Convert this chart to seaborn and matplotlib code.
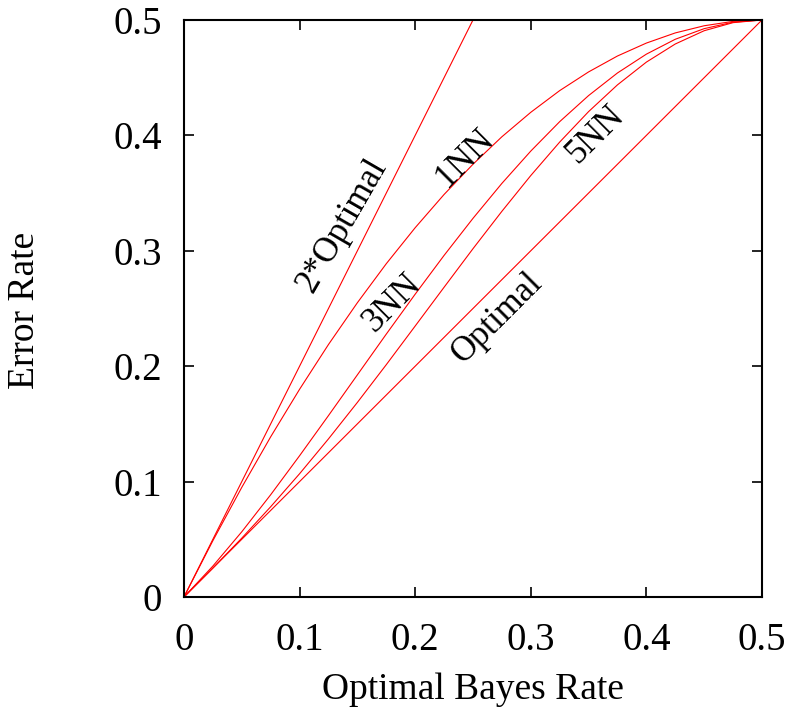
import numpy as np
import pandas as pd
import matplotlib
matplotlib.use('Agg')
import matplotlib.pyplot as plt
import seaborn as sns

# optimal Bayes rate (x axis)
bayes = [0.0, 0.025, 0.05, 0.075, 0.1, 0.125, 0.15, 0.175, 0.2, 0.225, 0.25,
         0.275, 0.3, 0.325, 0.35, 0.375, 0.4, 0.425, 0.45, 0.475, 0.5]

# error rates
err_optimal = [0.0, 0.025, 0.05, 0.075, 0.1, 0.125, 0.15, 0.175, 0.2, 0.225, 0.25,
               0.275, 0.3, 0.325, 0.35, 0.375, 0.4, 0.425, 0.45, 0.475, 0.5]
err_2opt_x = [0.0, 0.25]
err_2opt = [0.0, 0.5]
err_1nn = [0.0, 0.0488, 0.095, 0.1388, 0.18, 0.2188, 0.255, 0.2888, 0.32, 0.3488, 0.375,
           0.3988, 0.42, 0.4388, 0.455, 0.4688, 0.48, 0.4888, 0.495, 0.4988, 0.5]
err_3nn = [0.0, 0.0268, 0.0565, 0.0886, 0.1224, 0.1572, 0.1925, 0.2278, 0.2624, 0.296, 0.3281,
           0.3584, 0.3864, 0.4119, 0.4345, 0.4541, 0.4704, 0.4833, 0.4925, 0.4981, 0.5]
err_5nn = [0.0, 0.0251, 0.051, 0.0782, 0.1068, 0.137, 0.1686, 0.2013, 0.2348, 0.2684, 0.3018,
           0.3342, 0.3652, 0.3942, 0.4206, 0.4438, 0.4635, 0.4792, 0.4907, 0.4977, 0.5]

# curve labels: text, x, y, rotation
labels = ['2*Optimal', '1NN', '3NN', '5NN', 'Optimal']
label_x = [0.137, 0.243, 0.180, 0.356, 0.271]
label_y = [0.322, 0.380, 0.255, 0.401, 0.242]
label_rot = [60, 45, 45, 45, 45]

sns.set_theme(style="white")
plt.rcParams['font.family'] = ['Liberation Serif', 'DejaVu Serif']

fig = plt.figure(figsize=(7.91, 7.14), dpi=100)
ax = fig.add_axes([0.2326, 0.1639, 0.7307, 0.8081])

red = '#ff0000'
sns.lineplot(x=bayes, y=err_optimal, color=red, lw=0.8, ax=ax)
sns.lineplot(x=err_2opt_x, y=err_2opt, color=red, lw=0.8, ax=ax)
sns.lineplot(x=bayes, y=err_1nn, color=red, lw=0.8, ax=ax)
sns.lineplot(x=bayes, y=err_3nn, color=red, lw=0.8, ax=ax)
sns.lineplot(x=bayes, y=err_5nn, color=red, lw=0.8, ax=ax)

for t, x, y, r in zip(labels, label_x, label_y, label_rot):
    ax.text(x, y, t, rotation=r, rotation_mode='anchor', ha='center', va='center',
            fontsize=25, color='black')

ax.set_xlim(0, 0.5)
ax.set_ylim(0, 0.5)
ticks = [0, 0.1, 0.2, 0.3, 0.4, 0.5]
tick_labels = ['0', '0.1', '0.2', '0.3', '0.4', '0.5']
ax.set_xticks(ticks)
ax.set_xticklabels(tick_labels)
ax.set_yticks(ticks)
ax.set_yticklabels(tick_labels)
ax.tick_params(direction='in', length=7, width=1.2, color='black', labelsize=28,
               top=True, right=True, bottom=True, left=True, labelcolor='black')
ax.tick_params(axis='x', pad=18)
ax.tick_params(axis='y', pad=16)
for s in ax.spines.values():
    s.set_color('black')
    s.set_linewidth(1.5)

ax.set_xlabel('Optimal Bayes Rate', fontsize=27, color='black')
ax.set_ylabel('Error Rate', fontsize=27, color='black', va='center')
ax.xaxis.set_label_coords(0.5, -0.16)
ax.yaxis.set_label_coords(-0.275, 0.497)
ax.xaxis.label.set_va('center')

fig.savefig('out.png', dpi=100)
